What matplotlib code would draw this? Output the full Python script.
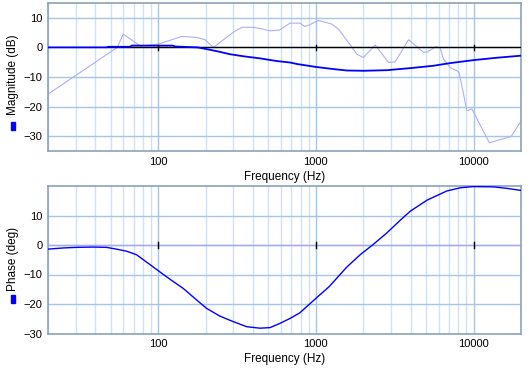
import matplotlib
matplotlib.use("Agg")
import matplotlib.pyplot as plt
from matplotlib.ticker import LogLocator, FixedLocator, FuncFormatter, NullFormatter
from matplotlib.patches import Rectangle

# magnitude response of the filter (dB)
mag_freq = [20, 47, 48, 66, 68, 124, 128, 159, 178, 213, 246, 285, 347, 442,
            563, 685, 757, 1000, 1280, 1570, 2000, 2830, 3430, 3980, 5570,
            7110, 10000, 14000, 20000]
mag_db = [0, 0, 0.2, 0.2, 0.6, 0.6, 0.3, 0.1, 0.0, -0.8, -1.5, -2.3, -3.0,
          -3.7, -4.6, -5.1, -5.6, -6.6, -7.3, -7.8, -7.9, -7.7, -7.3, -7.0,
          -6.2, -5.3, -4.3, -3.5, -2.8]

# measured / target curve (light)
meas_freq = [20, 55, 60, 77, 100, 141, 175, 198, 224, 299, 339, 401, 442, 512,
             590, 685, 791, 850, 900, 1038, 1260, 1390, 1650, 1820, 2000, 2380,
             2890, 3180, 3870, 4820, 5100, 5800, 6150, 6450, 7110, 7850, 8100,
             9080, 9760, 12600, 17300, 20000]
meas_db = [-15.8, 0, 4.5, 0.5, 1.1, 3.7, 3.4, 2.6, 0, 5.1, 6.8, 6.8, 6.4, 5.6,
           5.9, 8.2, 8.2, 7.1, 7.5, 9.1, 7.9, 6.2, 0.9, -2.3, -3.4, 0.8,
           -5.1, -4.9, 2.6, -1.7, -1.5, 0.3, -0.3, -4.0, -6.8, -7.9, -8.5,
           -21.4, -20.8, -32.2, -30.1, -24.9]

# phase response (deg)
ph_freq = [20, 25, 30.3, 38.7, 47, 54.4, 63, 72.9, 84.4, 100, 118.7, 144, 175,
           203, 246, 300, 364, 442, 512, 590, 685, 791, 1000, 1215, 1570, 1910,
           2300, 2820, 3430, 3980, 5070, 6760, 8240, 10000, 13400, 16300, 20000]
ph_deg = [-1.4, -1.0, -0.8, -0.7, -0.8, -1.4, -2.1, -3.3, -5.8, -8.7, -11.6,
          -14.7, -18.6, -21.5, -24.1, -26.0, -27.7, -28.2, -28.0, -26.6, -24.9,
          -23.0, -18.1, -14.1, -7.5, -3.3, 0.1, 4.1, 8.4, 11.5, 15.2, 18.3,
          19.4, 19.8, 19.7, 19.2, 18.5]

decades = [100, 1000, 10000]

W, H = 529, 368
fig = plt.figure(figsize=(W / 100, H / 100), dpi=100)
plt.rcParams['font.family'] = ['Liberation Sans', 'DejaVu Sans']

spine_col = '#8ca2ba'
minor_col = '#cfe1f7'
major_col = '#a6c6e8'


def setup(ax, ylim, yticks):
    ax.set_xscale('log')
    ax.set_xlim(20, 20000)
    ax.set_ylim(*ylim)
    ax.xaxis.set_major_locator(FixedLocator(decades))
    ax.xaxis.set_major_formatter(FuncFormatter(lambda v, p: '%d' % v))
    ax.xaxis.set_minor_locator(LogLocator(base=10, subs=range(2, 10), numticks=20))
    ax.xaxis.set_minor_formatter(NullFormatter())
    ax.set_yticks(yticks)
    ax.grid(which='minor', axis='x', color=minor_col, lw=1.0)
    ax.grid(which='major', axis='x', color=major_col, lw=1.0)
    ax.grid(which='major', axis='y', color=major_col, lw=1.0)
    ax.set_axisbelow(True)
    ax.tick_params(which='both', length=0, labelsize=8, pad=4)
    for s in ax.spines.values():
        s.set_color(spine_col)
        s.set_linewidth(1.2)
    ax.set_xlabel('Frequency (Hz)', fontsize=8.5, labelpad=3)


def ylabel(text, y_text, y_mark):
    fig.text(13 / W, 1 - y_text / H, text, rotation=90, fontsize=8.5,
             ha='center', va='center')
    fig.patches.append(Rectangle((11 / W, 1 - (y_mark + 4) / H), 4 / W, 8 / H,
                                 transform=fig.transFigure, color='#0000ff'))


def zero_ticks(ax):
    for d in decades:
        ax.plot([d, d], [-0.9, 0.9], color='black', lw=1.0, zorder=4)


# top: magnitude
ax1 = fig.add_axes([48 / W, 1 - 151 / H, 473 / W, 148 / H])
setup(ax1, (-35, 15), [-30, -20, -10, 0, 10])
ax1.plot(meas_freq, meas_db, color='#aeaef6', lw=0.8, zorder=2)
ax1.plot([47, 20000], [0, 0], color='black', lw=1.0, zorder=3)
ax1.plot(mag_freq, mag_db, color='#0000ff', lw=1.3, zorder=3)
zero_ticks(ax1)
ylabel('Magnitude (dB)', 75, 125.5)

# bottom: phase
ax2 = fig.add_axes([48 / W, 1 - 333.5 / H, 473 / W, 147.5 / H])
setup(ax2, (-30, 20), [-30, -20, -10, 0, 10])
ax2.axhline(0, color='#a8a8ee', lw=1.0, zorder=2)
zero_ticks(ax2)
ax2.plot(ph_freq, ph_deg, color='#0000ff', lw=1.0, zorder=3)
ylabel('Phase (deg)', 259, 299)

fig.savefig('out.png', dpi=100)
